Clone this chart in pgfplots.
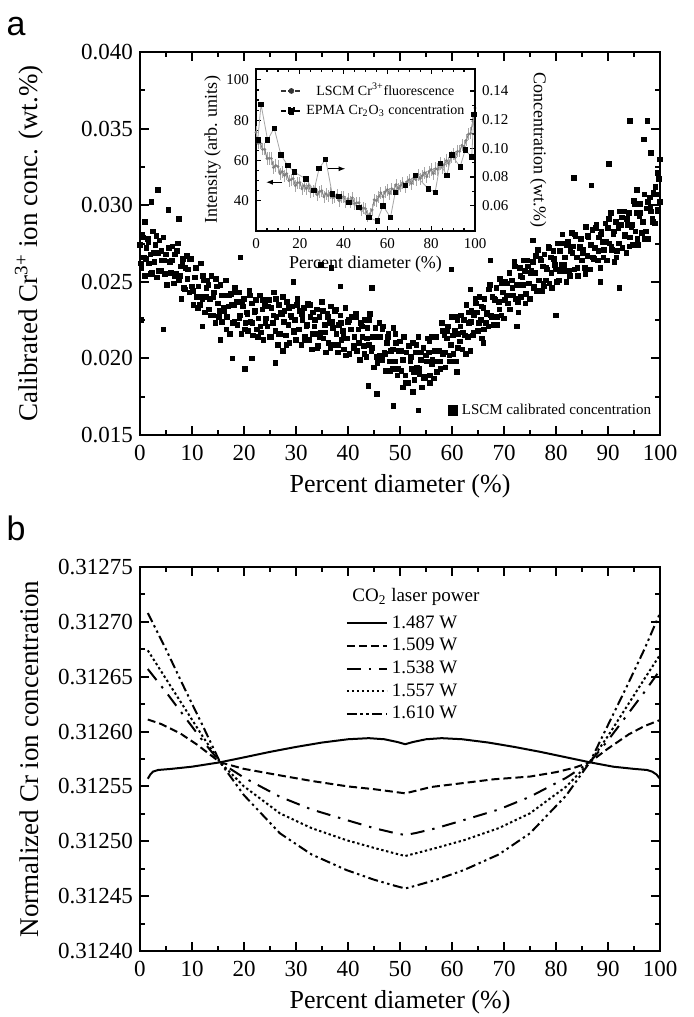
\documentclass[border=0pt]{standalone}
\usepackage{pgfplots}
\pgfplotsset{compat=1.18}
\usepackage{fontspec}
\setmainfont{Liberation Serif}
\newfontfamily\panelfont{Liberation Sans}
\usetikzlibrary{arrows.meta}

% common look of the two big panels
\pgfplotsset{
  panel/.style={
    scale only axis, width=260pt,
    xmin=0, xmax=100, xtick={0,10,...,100}, minor x tick num=1,
    tick align=inside, xtick pos=both, ytick pos=both,
    axis line style={line width=1.2pt},
    major tick length=4.5pt, minor tick length=2.5pt,
    every tick/.append style={black, line width=1pt},
    every minor tick/.append style={black, line width=1pt},
    tick label style={font=\fontsize{11.5}{13}\selectfont},
    xticklabel style={yshift=-1.5pt},
    xlabel style={font=\fontsize{13}{15}\selectfont},
    every axis y label/.style={at={(axis description cs:-0.213,0.5)}, rotate=90,
      anchor=center, font=\fontsize{13.5}{15}\selectfont},
    /pgf/number format/assume math mode=true,
    scaled y ticks=false,
    xlabel={Percent diameter (\%)},
  },
}

\begin{document}
\begin{tikzpicture}
\useasboundingbox (-70pt,26pt) rectangle (277pt,-482.5pt);

\node[font=\panelfont\fontsize{17}{17}\selectfont, anchor=base] at (-62pt,8.5pt) {a};
\node[font=\panelfont\fontsize{17}{17}\selectfont, anchor=base] at (-62pt,-244pt) {b};

% ---------------- panel a ----------------
\begin{axis}[panel,
  at={(0pt,0pt)}, anchor=north west, height=191.5pt,
  ymin=0.015, ymax=0.040,
  ytick={0.015,0.020,0.025,0.030,0.035,0.040},
  yticklabels={0.015,0.020,0.025,0.030,0.035,0.040},
  minor y tick num=1,
  ylabel={Calibrated Cr\textsuperscript{3+} ion conc. (wt.\%)},
  legend style={at={(0.995,0.03)}, anchor=south east, draw=none, fill=none,
    font=\fontsize{7.5}{9}\selectfont, inner sep=1pt},
  legend image code/.code={\draw[#1] plot coordinates {(0.15cm,0cm)};},
]
\addlegendimage{only marks, mark=square*, mark size=2.4pt, black}
\addlegendentry{LSCM calibrated concentration}
% LSCM scatter
\addplot[only marks, mark=square*, mark size=1.15pt, black, forget plot] coordinates {
(0,0.0274) (0.25,0.0259) (0.5,0.0281) (0.75,0.0266) (1,0.0254) (1.25,0.0272) (1.5,0.0278) (1.75,0.0262)
(2,0.0268) (2.25,0.0256) (2.5,0.0283) (2.75,0.0263) (3,0.0274) (3.25,0.0253) (3.5,0.0269) (3.75,0.0277)
(4,0.0257) (4.25,0.0264) (4.5,0.0279) (4.75,0.0255) (5,0.0268) (5.25,0.0248) (5.5,0.0272) (5.75,0.0263)
(6,0.0256) (6.25,0.0273) (6.5,0.0249) (6.75,0.0268) (7,0.0255) (7.25,0.0275) (7.5,0.0251) (7.75,0.0260)
(8,0.0239) (8.25,0.0265) (8.5,0.0246) (8.75,0.0259) (9,0.0267) (9.25,0.0258) (9.5,0.0243) (9.75,0.0265)
(10,0.0247) (10.25,0.0235) (10.5,0.0253) (10.75,0.0259) (11,0.0240) (11.25,0.0247) (11.5,0.0235) (11.75,0.0262)
(12,0.0239) (12.25,0.0251) (12.5,0.0230) (12.75,0.0246) (13,0.0251) (13.25,0.0232) (13.5,0.0239) (13.75,0.0254)
(14,0.0228) (14.25,0.0243) (14.5,0.0223) (14.75,0.0247) (15,0.0236) (15.25,0.0231) (15.5,0.0248) (15.75,0.0224)
(16,0.0241) (16.25,0.0231) (16.5,0.0251) (16.75,0.0227) (17,0.0234) (17.25,0.0216) (17.5,0.0242) (17.75,0.0223)
(18,0.0235) (18.25,0.0246) (18.5,0.0237) (18.75,0.0222) (19,0.0243) (19.25,0.0228) (19.5,0.0216) (19.75,0.0234)
(20,0.0239) (20.25,0.0223) (20.5,0.0230) (20.75,0.0218) (21,0.0244) (21.25,0.0224) (21.5,0.0236) (21.75,0.0215)
(22,0.0230) (22.25,0.0238) (22.5,0.0219) (22.75,0.0226) (23,0.0241) (23.25,0.0217) (23.5,0.0232) (23.75,0.0212)
(24,0.0235) (24.25,0.0226) (24.5,0.0221) (24.75,0.0238) (25,0.0214) (25.25,0.0233) (25.5,0.0223) (25.75,0.0243)
(26,0.0218) (26.25,0.0227) (26.5,0.0209) (26.75,0.0235) (27,0.0216) (27.25,0.0229) (27.5,0.0240) (27.75,0.0231)
(28,0.0215) (28.25,0.0237) (28.5,0.0222) (28.75,0.0210) (29,0.0228) (29.25,0.0234) (29.5,0.0218) (29.75,0.0225)
(30,0.0212) (30.25,0.0239) (30.5,0.0219) (30.75,0.0231) (31,0.0209) (31.25,0.0225) (31.5,0.0233) (31.75,0.0214)
(32,0.0221) (32.25,0.0236) (32.5,0.0212) (32.75,0.0227) (33,0.0206) (33.25,0.0230) (33.5,0.0221) (33.75,0.0216)
(34,0.0232) (34.25,0.0208) (34.5,0.0227) (34.75,0.0217) (35,0.0237) (35.25,0.0213) (35.5,0.0222) (35.75,0.0204)
(36,0.0229) (36.25,0.0210) (36.5,0.0223) (36.75,0.0234) (37,0.0224) (37.25,0.0209) (37.5,0.0231) (37.75,0.0216)
(38,0.0204) (38.25,0.0222) (38.5,0.0228) (38.75,0.0212) (39,0.0218) (39.25,0.0206) (39.5,0.0233) (39.75,0.0213)
(40,0.0224) (40.25,0.0203) (40.5,0.0219) (40.75,0.0227) (41,0.0207) (41.25,0.0214) (41.5,0.0229) (41.75,0.0205)
(42,0.0219) (42.25,0.0199) (42.5,0.0223) (42.75,0.0214) (43,0.0208) (43.25,0.0225) (43.5,0.0201) (43.75,0.0220)
(44,0.0209) (44.25,0.0229) (44.5,0.0205) (44.75,0.0214) (45,0.0194) (45.25,0.0220) (45.5,0.0201) (45.75,0.0214)
(46,0.0223) (46.25,0.0214) (46.5,0.0199) (46.75,0.0221) (47,0.0204) (47.25,0.0192) (47.5,0.0210) (47.75,0.0216)
(48,0.0198) (48.25,0.0205) (48.5,0.0193) (48.75,0.0220) (49,0.0198) (49.25,0.0210) (49.5,0.0189) (49.75,0.0205)
(50,0.0211) (50.25,0.0192) (50.5,0.0199) (50.75,0.0214) (51,0.0189) (51.25,0.0204) (51.5,0.0184) (51.75,0.0208)
(52,0.0198) (52.25,0.0193) (52.5,0.0210) (52.75,0.0186) (53,0.0204) (53.25,0.0194) (53.5,0.0214) (53.75,0.0190)
(54,0.0199) (54.25,0.0181) (54.5,0.0207) (54.75,0.0188) (55,0.0202) (55.25,0.0213) (55.5,0.0204) (55.75,0.0189)
(56,0.0214) (56.25,0.0199) (56.5,0.0187) (56.75,0.0205) (57,0.0214) (57.25,0.0198) (57.5,0.0205) (57.75,0.0193)
(58,0.0223) (58.25,0.0203) (58.5,0.0215) (58.75,0.0194) (59,0.0213) (59.25,0.0221) (59.5,0.0202) (59.75,0.0209)
(60,0.0227) (60.25,0.0203) (60.5,0.0218) (60.75,0.0198) (61,0.0225) (61.25,0.0216) (61.5,0.0211) (61.75,0.0228)
(62,0.0206) (62.25,0.0225) (62.5,0.0215) (62.75,0.0235) (63,0.0214) (63.25,0.0223) (63.5,0.0205) (63.75,0.0231)
(64,0.0215) (64.25,0.0228) (64.5,0.0239) (64.75,0.0230) (65,0.0218) (65.25,0.0240) (65.5,0.0225) (65.75,0.0213)
(66,0.0233) (66.25,0.0239) (66.5,0.0223) (66.75,0.0230) (67,0.0221) (67.25,0.0248) (67.5,0.0228) (67.75,0.0240)
(68,0.0222) (68.25,0.0238) (68.5,0.0246) (68.75,0.0227) (69,0.0237) (69.25,0.0252) (69.5,0.0228) (69.75,0.0243)
(70,0.0226) (70.25,0.0250) (70.5,0.0241) (70.75,0.0236) (71,0.0256) (71.25,0.0232) (71.5,0.0251) (71.75,0.0241)
(72,0.0263) (72.25,0.0239) (72.5,0.0248) (72.75,0.0230) (73,0.0259) (73.25,0.0240) (73.5,0.0253) (73.75,0.0264)
(74,0.0257) (74.25,0.0242) (74.5,0.0264) (74.75,0.0249) (75,0.0239) (75.25,0.0257) (75.5,0.0263) (75.75,0.0247)
(76,0.0256) (76.25,0.0244) (76.5,0.0271) (76.75,0.0251) (77,0.0265) (77.25,0.0244) (77.5,0.0260) (77.75,0.0268)
(78,0.0251) (78.25,0.0258) (78.5,0.0273) (78.75,0.0249) (79,0.0266) (79.25,0.0246) (79.5,0.0270) (79.75,0.0261)
(80,0.0258) (80.25,0.0275) (80.5,0.0251) (80.75,0.0270) (81,0.0261) (81.25,0.0281) (81.5,0.0257) (81.75,0.0266)
(82,0.0250) (82.25,0.0276) (82.5,0.0257) (82.75,0.0270) (83,0.0282) (83.25,0.0273) (83.5,0.0258) (83.75,0.0280)
(84,0.0266) (84.25,0.0254) (84.5,0.0272) (84.75,0.0278) (85,0.0264) (85.25,0.0271) (85.5,0.0259) (85.75,0.0286)
(86,0.0267) (86.25,0.0279) (86.5,0.0258) (86.75,0.0274) (87,0.0284) (87.25,0.0265) (87.5,0.0272) (87.75,0.0287)
(88,0.0264) (88.25,0.0279) (88.5,0.0259) (88.75,0.0283) (89,0.0276) (89.25,0.0271) (89.5,0.0288) (89.75,0.0264)
(90,0.0285) (90.25,0.0275) (90.5,0.0295) (90.75,0.0271) (91,0.0281) (91.25,0.0263) (91.5,0.0289) (91.75,0.0270)
(92,0.0285) (92.25,0.0296) (92.5,0.0287) (92.75,0.0272) (93,0.0296) (93.25,0.0281) (93.5,0.0269) (93.75,0.0287)
(94,0.0295) (94.25,0.0279) (94.5,0.0286) (94.75,0.0274) (95,0.0303) (95.25,0.0283) (95.5,0.0295) (95.75,0.0274)
(96,0.0293) (96.25,0.0301) (96.5,0.0282) (96.75,0.0289) (97,0.0307) (97.25,0.0283) (97.5,0.0298) (97.75,0.0278)
(98,0.0305) (98.25,0.0296) (98.5,0.0291) (98.75,0.0308) (99,0.0288) (99.25,0.0307) (99.5,0.0297) (99.75,0.0317)
% second pass of points between the first
(0.125,0.0262) (0.625,0.0279) (1.125,0.0265) (1.625,0.0276) (2.125,0.0255) (2.625,0.0269)
(3.125,0.0280) (3.625,0.0257) (4.125,0.0270) (4.625,0.0264) (5.125,0.0248) (5.625,0.0272)
(6.125,0.0264) (6.625,0.0254) (7.125,0.0270) (7.625,0.0254) (8.125,0.0262) (8.625,0.0245)
(9.125,0.0252) (9.625,0.0265) (10.125,0.0244) (10.625,0.0253) (11.125,0.0233) (11.625,0.0240)
(12.125,0.0254) (12.625,0.0240) (13.125,0.0248) (13.625,0.0228) (14.125,0.0240) (14.625,0.0252)
(15.125,0.0227) (15.625,0.0241) (16.125,0.0233) (16.625,0.0219) (17.125,0.0241) (17.625,0.0235)
(18.125,0.0224) (18.625,0.0243) (19.125,0.0226) (19.625,0.0237) (20.125,0.0219) (20.625,0.0229)
(21.125,0.0241) (21.625,0.0223) (22.125,0.0231) (22.625,0.0214) (23.125,0.0221) (23.625,0.0238)
(24.125,0.0223) (24.625,0.0234) (25.125,0.0214) (25.625,0.0228) (26.125,0.0239) (26.625,0.0216)
(27.125,0.0230) (27.625,0.0224) (28.125,0.0209) (28.625,0.0233) (29.125,0.0227) (29.625,0.0217)
(30.125,0.0235) (30.625,0.0219) (31.125,0.0229) (31.625,0.0212) (32.125,0.0222) (32.625,0.0235)
(33.125,0.0216) (33.625,0.0225) (34.125,0.0207) (34.625,0.0214) (35.125,0.0231) (35.625,0.0217)
(36.125,0.0227) (36.625,0.0207) (37.125,0.0220) (37.625,0.0232) (38.125,0.0209) (38.625,0.0223)
(39.125,0.0216) (39.625,0.0202) (40.125,0.0225) (40.625,0.0219) (41.125,0.0208) (41.625,0.0227)
(42.125,0.0210) (42.625,0.0221) (43.125,0.0203) (43.625,0.0213) (44.125,0.0225) (44.625,0.0207)
(45.125,0.0214) (45.625,0.0197) (46.125,0.0202) (46.625,0.0219) (47.125,0.0203) (47.625,0.0214)
(48.125,0.0192) (48.625,0.0206) (49.125,0.0216) (49.625,0.0193) (50.125,0.0205) (50.625,0.0199)
(51.125,0.0184) (51.625,0.0208) (52.125,0.0201) (52.625,0.0191) (53.125,0.0209) (53.625,0.0193)
(54.125,0.0204) (54.625,0.0187) (55.125,0.0198) (55.625,0.0211) (56.125,0.0196) (56.625,0.0205)
(57.125,0.0191) (57.625,0.0198) (58.125,0.0218) (58.625,0.0204) (59.125,0.0218) (59.625,0.0198)
(60.125,0.0215) (60.625,0.0227) (61.125,0.0207) (61.625,0.0221) (62.125,0.0217) (62.625,0.0203)
(63.125,0.0230) (63.625,0.0224) (64.125,0.0217) (64.625,0.0236) (65.125,0.0223) (65.625,0.0234)
(66.125,0.0219) (66.625,0.0229) (67.125,0.0245) (67.625,0.0227) (68.125,0.0239) (68.625,0.0222)
(69.125,0.0232) (69.625,0.0249) (70.125,0.0238) (70.625,0.0249) (71.125,0.0232) (71.625,0.0246)
(72.125,0.0260) (72.625,0.0237) (73.125,0.0254) (73.625,0.0248) (74.125,0.0236) (74.625,0.0260)
(75.125,0.0256) (75.625,0.0246) (76.125,0.0267) (76.625,0.0251) (77.125,0.0264) (77.625,0.0247)
(78.125,0.0259) (78.625,0.0272) (79.125,0.0256) (79.625,0.0265) (80.125,0.0250) (80.625,0.0257)
(81.125,0.0275) (81.625,0.0261) (82.125,0.0274) (82.625,0.0254) (83.125,0.0269) (83.625,0.0281)
(84.125,0.0259) (84.625,0.0273) (85.125,0.0269) (85.625,0.0255) (86.125,0.0280) (86.625,0.0274)
(87.125,0.0266) (87.625,0.0285) (88.125,0.0270) (88.625,0.0281) (89.125,0.0266) (89.625,0.0276)
(90.125,0.0291) (90.625,0.0273) (91.125,0.0283) (91.625,0.0266) (92.125,0.0275) (92.625,0.0292)
(93.125,0.0280) (93.625,0.0291) (94.125,0.0273) (94.625,0.0287) (95.125,0.0301) (95.625,0.0278)
(96.125,0.0295) (96.625,0.0289) (97.125,0.0278) (97.625,0.0302) (98.125,0.0299) (98.625,0.0289)
(99.125,0.0312) (99.625,0.0296)
% stray points
(0.3,0.0225) (4.5,0.0219) (3.5,0.0310) (2.2,0.0302) (5.5,0.0297) (1.0,0.0289) (7.5,0.0291)
(19.3,0.0266) (17.8,0.0200) (20.2,0.0193) (21.5,0.0200) (15.5,0.0212) (12.0,0.0221)
(34.8,0.0261) (36.8,0.0259) (29.5,0.0250) (38.5,0.0247) (44.6,0.0246) (26.0,0.0197) (27.5,0.0205)
(43.9,0.0182) (45.6,0.0177) (48.7,0.0169) (53.5,0.0166) (55.8,0.0184) (50.5,0.0181) (52.5,0.0178)
(59.9,0.0258) (60.9,0.0191) (66.0,0.0210) (67.4,0.0264) (63.5,0.0245)
(77.6,0.0249) (80.0,0.0228) (72.5,0.0221) (75.5,0.0277)
(83.4,0.0318) (86.8,0.0313) (90.2,0.0327) (92.2,0.0246) (88.5,0.0250) (94.2,0.0355) (96.9,0.0343)
(97.6,0.0355) (98.2,0.0334) (99.5,0.0321) (95.5,0.0310) (100,0.0330) (100,0.0302)
};
\end{axis}

% ---------------- inset, left scale ----------------
\begin{axis}[
  at={(58pt,-8.5pt)}, anchor=north west,
  scale only axis, width=109.5pt, height=81pt,
  xmin=0, xmax=100, ymin=25, ymax=105.4,
  xtick={0,20,...,100}, minor x tick num=3,
  ytick={40,60,80,100}, minor y tick num=3,
  xtick pos=both, ytick pos=left, tick align=inside,
  major tick length=2.5pt, minor tick length=1.3pt,
  axis line style={line width=0.8pt},
  every tick/.append style={black, line width=0.6pt},
  every minor tick/.append style={black, line width=0.6pt},
  tick label style={font=\fontsize{7.5}{8}\selectfont},
  label style={font=\fontsize{9}{10}\selectfont},
  /pgf/number format/assume math mode=true,
  xlabel={Percent diameter (\%)}, ylabel={Intensity (arb. units)},
  xlabel style={yshift=3pt}, ylabel style={yshift=-4pt},
  axis background/.style={fill=white},
  legend style={at={(0.11,0.94)}, anchor=north west, draw=none, fill=none,
    font=\fontsize{7}{7.5}\selectfont, inner sep=0pt, row sep=-1pt},
  legend image code/.code={\draw[#1] plot coordinates {(0pt,0pt) (5pt,0pt) (10pt,0pt)};},
]
\addlegendimage{gray!40!black, dash pattern=on 2.5pt off 1pt, line width=0.8pt, mark=*, mark size=1pt, mark indices={2}}
\addlegendentry{LSCM Cr\textsuperscript{3+}fluorescence}
\addlegendimage{black, dash pattern=on 2.5pt off 1pt, line width=0.9pt, mark=square*, mark size=1.4pt, mark indices={2}}
\addlegendentry{EPMA Cr\textsubscript{2}O\textsubscript{3} concentration}
% LSCM fluorescence profile
\addplot[gray, line width=0.5pt, mark=*, mark size=0.45pt, forget plot,
  error bars/.cd, y dir=both, y fixed=3, error mark=none,
  error bar style={gray!70, line width=0.35pt}] coordinates {
(0,74) (1,68.5) (2,68.5) (3,65.5) (4,65.5) (5,61) (6,61) (7,61) (8,56.5) (9,57.5)
(10,57) (11,53.5) (12,54.5) (13,52.5) (14,53.5) (15,50) (16,50.5) (17,51) (18,47.5) (19,49)
(20,49) (21,46) (22,47.5) (23,46) (24,47.5) (25,44.5) (26,45) (27,46) (28,43) (29,44.5)
(30,45) (31,42) (32,43.5) (33,42.5) (34,44) (35,41.5) (36,42) (37,43) (38,40) (39,42)
(40,42) (41,39.5) (42,41) (43,39.5) (44,41.5) (45,38.5) (46,39) (47,39) (48,35.5) (49,36.5)
(50,36) (51,32.5) (52,33.5) (53,35.5) (54,40.5) (55,40) (56,42) (57,44) (58,42) (59,44.5)
(60,45.5) (61,43.5) (62,46) (63,45.5) (64,48) (65,46) (66,47.5) (67,49) (68,47) (69,49.5)
(70,50.5) (71,48.5) (72,51) (73,50.5) (74,53) (75,51) (76,52.5) (77,54) (78,52) (79,54.5)
(80,55.5) (81,53.5) (82,56) (83,55.5) (84,58.5) (85,56.5) (86,58) (87,60) (88,58.5) (89,61.5)
(90,63) (91,61.5) (92,64.5) (93,64.5) (94,67.5) (95,67) (96,70) (97,73) (98,73.5) (99,79.5)
(100,86)
};
\draw[-{Latex[length=3.5pt,width=2.6pt]}, line width=0.7pt] (axis cs:12,49.2) -- (axis cs:4.5,49.2);
\draw[-{Latex[length=3.5pt,width=2.6pt]}, line width=0.7pt] (axis cs:32.6,55.9) -- (axis cs:40.9,55.9);
\end{axis}

% ---------------- inset, right scale ----------------
\begin{axis}[
  at={(58pt,-8.5pt)}, anchor=north west,
  scale only axis, width=109.5pt, height=81pt,
  xmin=0, xmax=100, ymin=0.0424, ymax=0.1553,
  axis x line=none, axis y line*=right, tick align=inside,
  ytick={0.06,0.08,0.10,0.12,0.14}, yticklabels={0.06,0.08,0.10,0.12,0.14},
  minor y tick num=1, scaled y ticks=false,
  major tick length=2.5pt, minor tick length=1.3pt,
  axis line style={line width=0.8pt},
  every tick/.append style={black, line width=0.6pt},
  every minor tick/.append style={black, line width=0.6pt},
  tick label style={font=\fontsize{7.5}{8}\selectfont},
  label style={font=\fontsize{9}{10}\selectfont},
  ylabel={Concentration (wt.\%)}, ylabel style={rotate=180, yshift=4pt},
]
% EPMA Cr2O3 concentration
\addplot[gray!70, line width=0.4pt, mark=square*, mark size=1.1pt,
  mark options={black, fill=black}] coordinates {
(0.8,0.1059) (2.3,0.1306) (5.3,0.1059) (8.3,0.1141) (11.4,0.0953) (14.5,0.0880) (17.4,0.0835)
(22.7,0.0788) (26.5,0.0706) (28.8,0.0859) (31.8,0.0925) (34.8,0.0682) (37.9,0.0664)
(42.4,0.0624) (47,0.0588) (51.5,0.0518) (55.3,0.0494) (58,0.0600) (61.4,0.0518)
(63.6,0.0694) (68.2,0.0741) (72.7,0.0812) (78.8,0.0718) (81.8,0.0694) (84.1,0.0894)
(87.1,0.0812) (89.4,0.0953) (93.2,0.0871) (95.5,0.0988) (98.5,0.0941) (99.5,0.1235)
};
\end{axis}

% ---------------- panel b ----------------
\begin{axis}[panel,
  at={(0pt,-257.5pt)}, anchor=north west, height=192pt,
  ymin=0.3124, ymax=0.31275,
  ytick={0.3124,0.31245,0.3125,0.31255,0.3126,0.31265,0.3127,0.31275},
  yticklabels={0.31240,0.31245,0.31250,0.31255,0.31260,0.31265,0.31270,0.31275},
  minor ytick={0.312425,0.312475,0.312525,0.312575,0.312625,0.312675,0.312725},
  ylabel={Normalized Cr ion concentration},
  legend style={at={(0.395,0.885)}, anchor=north west, draw=none, fill=none,
    font=\fontsize{9.5}{11}\selectfont, inner sep=0pt, row sep=-0.5pt},
  legend image code/.code={\draw[#1] (0pt,0pt) -- (20pt,0pt);},
]
\node[anchor=west, font=\fontsize{9.5}{11}\selectfont] at (rel axis cs:0.395,0.922) {CO\textsubscript{2} laser power};
\addplot[black, line width=1pt] coordinates {
(1.5,0.312557) (2,0.312561) (2.5,0.3125635) (3.5,0.312565) (6,0.312566) (10,0.312568)
(15.4,0.312572) (20,0.3125765) (25,0.3125815) (30,0.312586) (35,0.31259) (40,0.312593)
(44,0.312594) (47,0.312593) (49.5,0.3125905) (51,0.3125885) (52.5,0.3125905) (55,0.312593)
(58,0.312594) (62,0.312593) (67,0.31259) (72,0.312586) (77,0.3125815) (82,0.3125765)
(86.5,0.312572) (91,0.312568) (95,0.312566) (97.5,0.312565) (98.5,0.3125635) (99.3,0.312561) (100,0.312557)
};
\addlegendentry{1.487 W}
\addplot[black, line width=1pt, dash pattern=on 4pt off 2pt] coordinates {
(1.5,0.312611) (4,0.312607) (7.7,0.3125985) (11,0.312588) (15.4,0.312572) (20,0.312566)
(27,0.31256) (33,0.312555) (40,0.31255) (45,0.3125475) (49,0.312545) (51,0.3125437)
(53,0.312546) (56,0.3125495) (62,0.312553) (68,0.3125565) (75,0.312559) (80,0.312563)
(83.5,0.312567) (86.5,0.312572) (90,0.3125845) (94,0.3125975) (97,0.312605) (100,0.3126105)
};
\addlegendentry{1.509 W}
\addplot[black, line width=1pt, dash pattern=on 7pt off 4pt on 1.2pt off 4pt] coordinates {
(1.5,0.312657) (5,0.312636) (8.5,0.312614) (12,0.312592) (15.4,0.312572) (20,0.312558)
(26.9,0.3125406) (33,0.312529) (39.7,0.3125194) (45,0.312512) (49,0.3125075) (51,0.3125057)
(53,0.3125075) (57,0.312512) (62.3,0.3125194) (69,0.312529) (75,0.3125406) (82,0.312558)
(86.5,0.312572) (90,0.312592) (93.5,0.312614) (97,0.312636) (100,0.312656)
};
\addlegendentry{1.538 W}
\addplot[black, line width=1pt, dash pattern=on 1.2pt off 1.3pt] coordinates {
(1.5,0.312674) (5,0.312648) (8.5,0.312622) (12,0.312596) (15.4,0.312572) (20,0.31255)
(26.9,0.3125255) (33,0.312512) (39.7,0.312501) (45,0.312494) (49,0.312489) (51,0.3124866)
(53,0.312489) (57,0.312494) (62.3,0.312501) (69,0.312512) (75,0.3125255) (82,0.31255)
(86.5,0.312572) (90,0.312596) (93.5,0.312622) (97,0.312648) (100,0.31267)
};
\addlegendentry{1.557 W}
\addplot[black, line width=1pt, dash pattern=on 5pt off 1.8pt on 1.2pt off 1.8pt on 1.2pt off 1.8pt] coordinates {
(1.5,0.312708) (5,0.312675) (8.5,0.31264) (12,0.312606) (15.4,0.312572) (20,0.312542)
(26.9,0.3125073) (33,0.312488) (39.7,0.3124738) (45,0.312465) (49,0.3124595) (51,0.312457)
(53,0.3124595) (57,0.312465) (62.3,0.3124738) (69,0.312488) (75,0.3125073) (82,0.312542)
(86.5,0.312572) (90,0.312606) (93.5,0.31264) (97,0.312675) (100,0.312708)
};
\addlegendentry{1.610 W}
\end{axis}
\end{tikzpicture}
\end{document}
